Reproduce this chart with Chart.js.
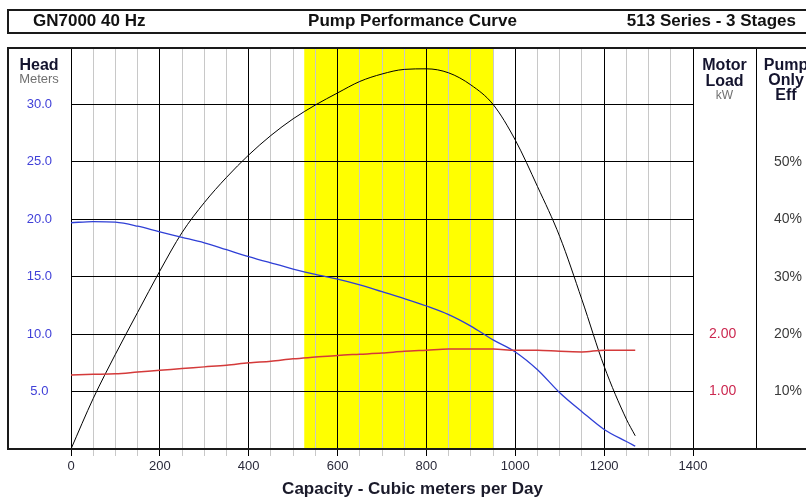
<!DOCTYPE html>
<html>
<head>
<meta charset="utf-8">
<title>Pump Performance Curve</title>
<script src="https://cdn.jsdelivr.net/npm/chart.js@4/dist/chart.umd.min.js"></script>
<style>
  html, body { margin: 0; padding: 0; background: #fff; overflow: hidden; }
  #wrap { position: absolute; left: 0; top: 0; width: 830px; height: 499px; }
</style>
</head>
<body>
<div id="wrap"><canvas id="chart" width="830" height="499"></canvas></div>
<script>
// Flow rate, cubic meters per day
const capacity = [0, 50, 100, 150, 200, 250, 300, 350, 400, 450, 500, 550, 600, 650,
                  700, 750, 800, 850, 900, 950, 1000, 1050, 1100, 1150, 1200, 1250, 1270];

// Total head, meters
const headMeters = [19.7, 19.8, 19.75, 19.4, 18.9, 18.43, 17.95, 17.35, 16.75, 16.2, 15.67, 15.2, 14.8, 14.3,
                    13.7, 13.1, 12.45, 11.7, 10.7, 9.5, 8.45, 6.9, 4.9, 3.25, 1.7, 0.65, 0.25];

// Pump-only efficiency, percent
const pumpEffPct = [0, 8.8, 16.5, 23.8, 31.0, 37.7, 42.9, 47.3, 51.2, 54.6, 57.5, 59.9, 62.0, 64.0,
                    65.3, 66.1, 66.2, 65.5, 63.4, 60.0, 53.8, 45.7, 37.0, 26.0, 14.4, 5.2, 2.3];

// Motor load, kW
const motorLoadKw = [1.29, 1.30, 1.31, 1.34, 1.37, 1.40, 1.43, 1.46, 1.50, 1.53, 1.57, 1.60, 1.63, 1.65,
                     1.67, 1.70, 1.72, 1.74, 1.74, 1.74, 1.72, 1.72, 1.70, 1.69, 1.72, 1.72, 1.72];

// Recommended operating range (capacity)
const operatingRange = [525, 950];

// Axis tick labels
const headTicks = [5, 10, 15, 20, 25, 30];
const loadTicks = [1, 2];
const effTicks = [10, 20, 30, 40, 50];
const capacityTicks = [0, 200, 400, 600, 800, 1000, 1200, 1400];

const FONT = '"Liberation Sans", Arial, sans-serif';

const toPoints = (vals) => capacity.map((c, i) => ({ x: c, y: vals[i] }));

// Yellow band behind the grid
const rangeBand = {
  id: 'rangeBand',
  beforeDraw(chart) {
    const { ctx, chartArea, scales } = chart;
    ctx.save();
    ctx.fillStyle = '#ffffff';
    ctx.fillRect(0, 0, chart.width, chart.height);
    const x0 = scales.x.getPixelForValue(operatingRange[0]);
    const x1 = scales.x.getPixelForValue(operatingRange[1]);
    ctx.fillStyle = '#ffff00';
    ctx.fillRect(x0, chartArea.top, x1 - x0, chartArea.bottom - chartArea.top);
    ctx.restore();
  }
};

// Frames, header and column captions
const frameAndCaptions = {
  id: 'frameAndCaptions',
  afterDraw(chart) {
    const { ctx, chartArea, scales } = chart;
    ctx.save();
    ctx.strokeStyle = '#1a1a1a';
    ctx.lineWidth = 2;

    // header box
    ctx.strokeRect(8, 10, 830, 23);

    // main frame: top, left, bottom
    ctx.beginPath();
    ctx.moveTo(7, 48); ctx.lineTo(chart.width, 48);
    ctx.moveTo(8, 47); ctx.lineTo(8, chartArea.bottom + 1);
    ctx.moveTo(7, chartArea.bottom); ctx.lineTo(chart.width, chartArea.bottom);
    ctx.stroke();

    // header texts
    ctx.fillStyle = '#111111';
    ctx.textBaseline = 'middle';
    ctx.font = 'bold 17px ' + FONT;
    ctx.textAlign = 'left';
    ctx.fillText('GN7000 40 Hz', 33, 21.5);
    ctx.textAlign = 'center';
    ctx.fillText('Pump Performance Curve', 412.5, 21.5);
    ctx.textAlign = 'right';
    ctx.fillText('513 Series - 3 Stages', 796, 21.5);

    // column captions
    ctx.textBaseline = 'alphabetic';
    ctx.textAlign = 'center';
    const headX = (scales.y.left + scales.y.right) / 2;
    const loadX = (scales.kw.left + scales.kw.right) / 2;
    const effX = (scales.eff.left + scales.eff.right) / 2 - 1.5;

    ctx.fillStyle = '#14142e';
    ctx.font = 'bold 16px ' + FONT;
    ctx.fillText('Head', headX, 70);
    ctx.fillText('Motor', loadX, 70);
    ctx.fillText('Load', loadX, 86);
    ctx.fillText('Pump', effX, 70);
    ctx.fillText('Only', effX, 85);
    ctx.fillText('Eff', effX, 100);

    ctx.fillStyle = '#707070';
    ctx.font = '13px ' + FONT;
    ctx.fillText('Meters', headX, 83);
    ctx.font = '12px ' + FONT;
    ctx.fillText('kW', loadX, 99);

    // x axis caption, centred on the frame
    ctx.fillStyle = '#1a1a2a';
    ctx.font = 'bold 17px ' + FONT;
    ctx.fillText('Capacity - Cubic meters per Day', 412.5, 494);
    ctx.restore();
  }
};

new Chart(document.getElementById('chart'), {
  type: 'line',
  data: {
    datasets: [
      {
        label: 'Motor Load',
        data: toPoints(motorLoadKw),
        yAxisID: 'kw',
        borderColor: '#d43a3a',
        borderWidth: 1.5,
        pointRadius: 0,
        cubicInterpolationMode: 'monotone'
      },
      {
        label: 'Head',
        data: toPoints(headMeters),
        yAxisID: 'y',
        borderColor: '#2f3fd6',
        borderWidth: 1.3,
        pointRadius: 0,
        cubicInterpolationMode: 'monotone'
      },
      {
        label: 'Pump Only Eff',
        data: toPoints(pumpEffPct),
        yAxisID: 'eff',
        borderColor: '#000000',
        borderWidth: 1,
        pointRadius: 0,
        cubicInterpolationMode: 'monotone'
      }
    ]
  },
  options: {
    responsive: false,
    animation: false,
    events: [],
    layout: { padding: { left: 7, top: 47, right: 11, bottom: 0 } },
    plugins: { legend: { display: false }, tooltip: { enabled: false }, title: { display: false } },
    scales: {
      x: {
        type: 'linear',
        min: 0,
        max: 1400,
        afterFit: (s) => { s.height = 50; },
        ticks: {
          stepSize: 50,
          autoSkip: false,
          maxRotation: 0,
          padding: 3,
          color: '#2a2a3a',
          font: { family: FONT, size: 13 },
          callback: (v) => capacityTicks.includes(v) ? String(v) : ''
        },
        grid: {
          color: (c) => (c.tick && capacityTicks.includes(c.tick.value)) ? '#000000' : '#c8c8c8',
          lineWidth: 1,
          tickLength: 7
        },
        border: { display: true, color: '#000000' }
      },
      y: {
        position: 'left',
        min: 0,
        max: 35,
        afterFit: (s) => { s.width = 64; },
        ticks: {
          stepSize: 5,
          crossAlign: 'center',
          padding: 19,
          color: '#4040d8',
          font: { family: FONT, size: 13 },
          callback: (v) => headTicks.includes(v) ? v.toFixed(1) : ''
        },
        grid: { color: '#000000', lineWidth: 1, drawTicks: false },
        border: { display: true, color: '#000000' }
      },
      kw: {
        position: 'right',
        weight: 0,
        min: 0,
        max: 7,
        afterFit: (s) => { s.width = 63; },
        ticks: {
          stepSize: 1,
          crossAlign: 'center',
          padding: 16,
          color: '#cc2850',
          font: { family: FONT, size: 14 },
          callback: (v) => loadTicks.includes(v) ? v.toFixed(2) : ''
        },
        grid: { display: true, drawOnChartArea: false, drawTicks: false },
        border: { display: true, color: '#000000' }
      },
      eff: {
        position: 'right',
        weight: 1,
        min: 0,
        max: 70,
        afterFit: (s) => { s.width = 63; },
        ticks: {
          stepSize: 10,
          crossAlign: 'center',
          padding: 18,
          color: '#3a3a3a',
          font: { family: FONT, size: 14 },
          callback: (v) => effTicks.includes(v) ? v + '%' : ''
        },
        grid: { display: true, drawOnChartArea: false, drawTicks: false },
        border: { display: true, color: '#000000' }
      }
    }
  },
  plugins: [rangeBand, frameAndCaptions]
});
</script>
</body>
</html>
